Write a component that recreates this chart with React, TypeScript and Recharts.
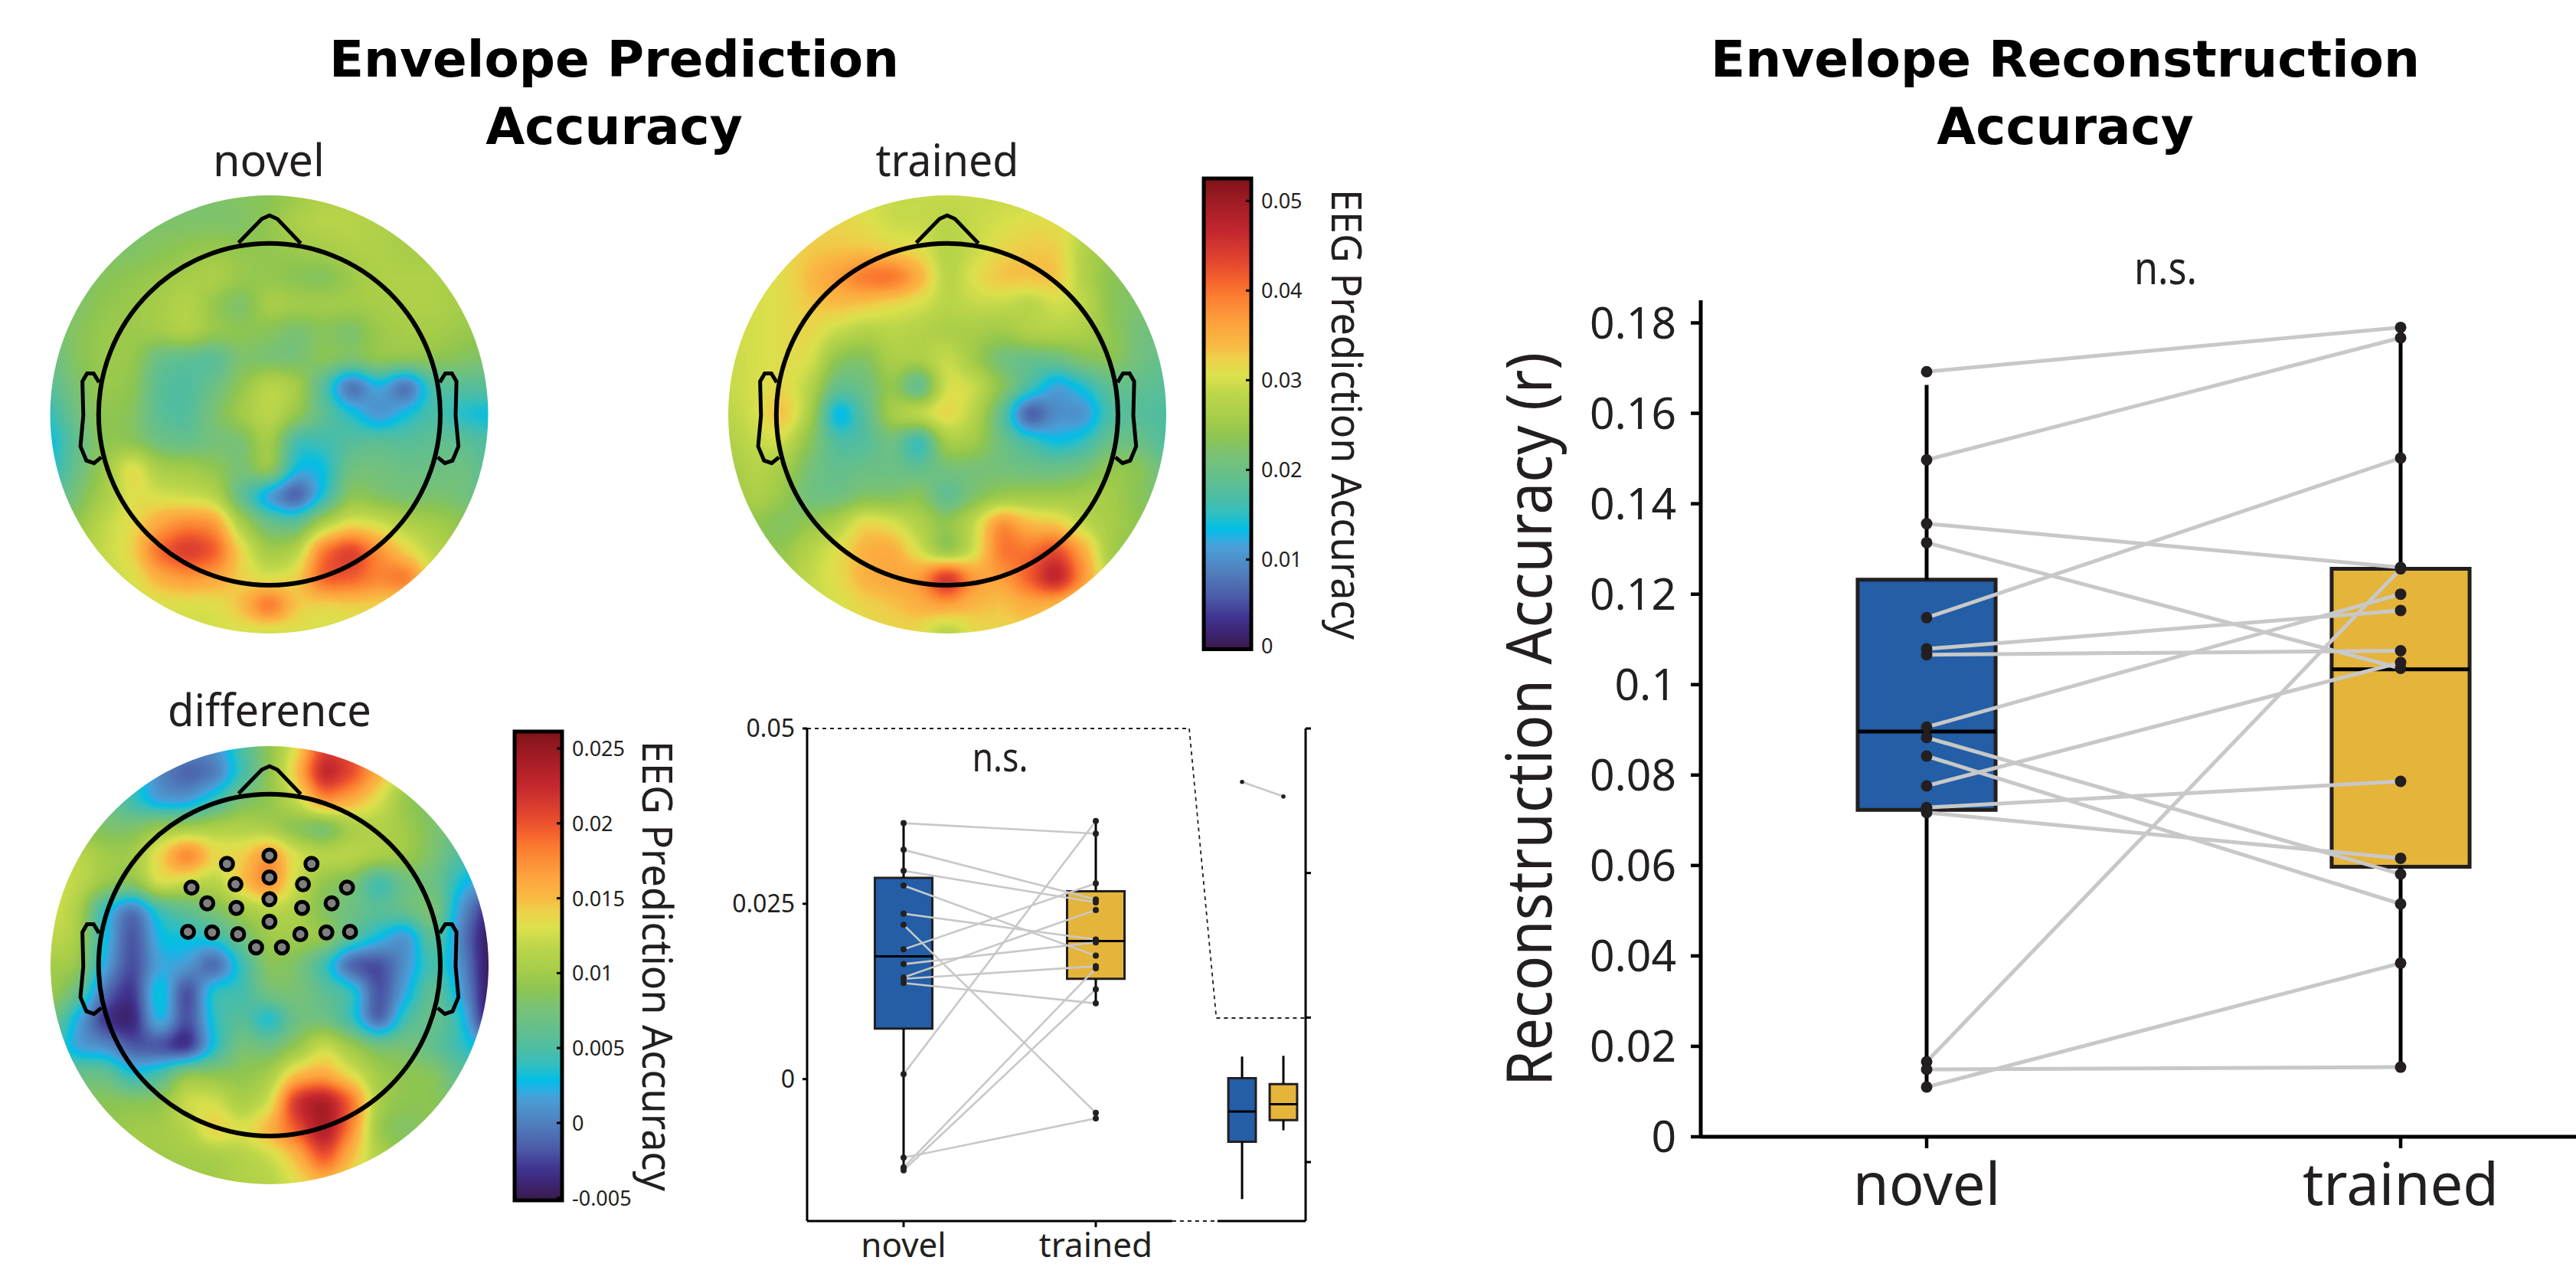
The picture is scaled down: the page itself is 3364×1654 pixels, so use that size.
import React from 'react'
import {
    ScatterChart,
    Scatter,
    BarChart,
    Bar,
    XAxis,
    YAxis,
    ReferenceArea,
    ReferenceLine,
    ReferenceDot,
} from 'recharts'

const INK = '#231f20'
const PAIR_GREY = '#c8c8c8'
const NOVEL_BLUE = '#235ea6'
const TRAINED_GOLD = '#e5b43a'
const SANS = '"Noto Sans", sans-serif'

// colorbar stops, read bottom to top
const cmapStops = [0, 0.033, 0.066, 0.112, 0.165, 0.218, 0.244, 0.257, 0.27, 0.29, 0.317, 0.356, 0.409, 0.449, 0.488, 0.541, 0.581, 0.62, 0.647, 0.686, 0.752, 0.785, 0.818, 0.884, 0.95, 1]
const cmapColors = ['#3a1a48', '#3d2470', '#40338f', '#4c5ca9', '#5080bd', '#4a9fd8', '#1ab5e5', '#00bfe6', '#17bfd4', '#33bfc0', '#49bda8', '#5fbf92', '#78c277', '#8cc552', '#a5cc4a', '#bcd64a', '#dbe14c', '#efcf49', '#f9b843', '#fda63f', '#fb7c30', '#f5602d', '#e5492f', '#c5272e', '#a01b24', '#7f1318']

// scalp maps, in units of 0.001 r, rows run from nose to back
const novelMap = [
    [22, 22, 22, 22, 22, 22, 22, 23, 23, 25, 27, 27, 27, 26, 26, 26, 26],
    [22, 22, 22, 22, 22, 22, 22, 22, 24, 27, 28, 28, 27, 26, 26, 26, 26],
    [22, 22, 22, 22, 23, 24, 25, 24, 24, 25, 26, 27, 27, 26, 26, 26, 26],
    [22, 22, 23, 24, 25, 26, 27, 25, 24, 23, 22, 25, 27, 27, 27, 26, 26],
    [21, 22, 24, 25, 26, 28, 24, 21, 27, 26, 26, 26, 26, 27, 27, 26, 25],
    [21, 23, 25, 25, 26, 28, 25, 24, 23, 21, 23, 21, 25, 26, 26, 25, 24],
    [20, 23, 25, 25, 19, 18, 17, 22, 21, 21, 24, 23, 25, 25, 24, 23, 22],
    [18, 22, 25, 24, 18, 17, 20, 24, 29, 27, 17, 4, 13, 4, 17, 18, 18],
    [15, 21, 24, 23, 18, 17, 22, 26, 29, 25, 19, 15, 9, 14, 17, 14, 13],
    [13, 19, 24, 23, 20, 19, 21, 21, 27, 15, 16, 18, 19, 18, 19, 19, 17],
    [14, 20, 25, 33, 26, 26, 24, 21, 27, 13, 13, 21, 21, 20, 20, 21, 18],
    [16, 22, 26, 31, 30, 29, 28, 18, 9, 3, 14, 24, 22, 21, 22, 21, 19],
    [20, 24, 29, 31, 36, 39, 38, 26, 20, 19, 27, 31, 30, 27, 26, 24, 22],
    [24, 27, 29, 32, 42, 46, 43, 32, 25, 27, 41, 46, 38, 32, 28, 26, 24],
    [26, 28, 29, 30, 35, 37, 36, 32, 30, 32, 43, 42, 39, 42, 30, 27, 25],
    [27, 28, 28, 29, 30, 30, 30, 34, 43, 33, 31, 32, 32, 30, 28, 27, 26],
    [27, 28, 28, 29, 30, 30, 30, 30, 28, 30, 30, 30, 30, 29, 28, 27, 26],
]

const trainedMap = [
    [30, 30, 30, 30, 30, 30, 29, 29, 29, 29, 29, 29, 28, 27, 26, 25, 25],
    [30, 30, 31, 32, 32, 31, 29, 29, 28, 29, 30, 31, 31, 29, 26, 25, 25],
    [30, 30, 31, 33, 33, 33, 32, 31, 27, 29, 32, 33, 33, 27, 25, 24, 24],
    [30, 30, 31, 34, 37, 41, 42, 36, 27, 31, 34, 34, 34, 27, 23, 23, 23],
    [30, 30, 31, 33, 34, 33, 31, 30, 28, 29, 29, 27, 30, 29, 23, 22, 22],
    [30, 30, 31, 32, 29, 27, 28, 27, 26, 26, 25, 28, 28, 27, 24, 21, 20],
    [29, 30, 31, 31, 23, 22, 27, 27, 30, 25, 20, 19, 20, 23, 24, 21, 19],
    [29, 30, 32, 28, 19, 20, 25, 15, 31, 30, 24, 18, 10, 14, 19, 19, 18],
    [28, 30, 35, 27, 10, 18, 27, 31, 33, 28, 19, 2, 10, 9, 17, 18, 17],
    [27, 29, 30, 23, 17, 17, 21, 12, 27, 26, 20, 17, 13, 15, 20, 20, 17],
    [25, 28, 26, 21, 19, 20, 20, 19, 21, 21, 21, 20, 20, 21, 25, 24, 20],
    [24, 27, 25, 20, 20, 22, 22, 24, 17, 22, 24, 25, 25, 26, 26, 23, 21],
    [23, 24, 22, 24, 27, 33, 31, 27, 24, 29, 40, 34, 33, 28, 26, 24, 22],
    [23, 23, 24, 28, 31, 35, 36, 30, 21, 29, 41, 40, 44, 36, 25, 24, 22],
    [24, 25, 26, 29, 31, 35, 36, 37, 50, 37, 36, 42, 50, 38, 27, 24, 22],
    [26, 27, 28, 29, 30, 32, 33, 35, 36, 34, 33, 35, 33, 29, 26, 24, 23],
    [27, 28, 28, 29, 30, 31, 32, 31, 26, 31, 32, 32, 31, 29, 26, 25, 24],
]

const differenceMap = [
    [3, 3, 3, 3, 2, 1, 1, 5, 9, 13, 21, 20, 16, 12, 10, 9, 8],
    [5, 5, 5, 5, 0, -2, -1, 4, 9, 15, 24, 21, 16, 11, 9, 8, 8],
    [8, 8, 7, 4, 1, 1, 4, 8, 9, 12, 18, 16, 13, 9, 8, 7, 7],
    [10, 9, 8, 8, 10, 10, 11, 11, 10, 8, 6, 10, 11, 10, 8, 7, 6],
    [12, 12, 10, 10, 14, 20, 14, 14, 18, 13, 12, 12, 11, 10, 8, 5, 4],
    [13, 12, 10, 9, 14, 12, 11, 15, 19, 12, 9, 8, 3, 7, 7, 3, 1],
    [13, 11, 3, -2, 4, 6, 8, 10, 11, 11, 8, 7, 6, 7, 9, 1, -4],
    [12, 11, 3, -3, 3, 3, 4, 7, 10, 10, 10, 6, 3, 0, 7, 0, -6],
    [10, 10, 2, -3, 2, 2, -3, 4, 9, 8, 4, -3, -3, 1, 5, 1, -8],
    [10, 7, -1, -4, 5, -4, 5, 4, 8, 8, 6, 5, -3, 2, 7, 2, -7],
    [8, 2, -4, -5, 4, -3, 4, 6, 2, 7, 7, 4, -3, 5, 7, 4, -6],
    [6, 1, 1, -2, -3, -6, 3, 8, 7, 9, 13, 10, 8, 8, 6, 4, 2],
    [7, 7, 7, 3, 5, 10, 9, 9, 10, 15, 16, 13, 10, 9, 9, 6, 5],
    [8, 8, 9, 9, 9, 13, 13, 10, 12, 23, 25, 20, 10, 9, 9, 7, 6],
    [8, 9, 9, 10, 10, 11, 15, 13, 16, 20, 25, 18, 9, 8, 9, 8, 7],
    [9, 9, 10, 10, 10, 10, 10, 11, 12, 15, 21, 15, 11, 9, 9, 8, 7],
    [9, 9, 10, 10, 10, 10, 10, 11, 11, 13, 15, 13, 11, 9, 9, 8, 7],
]

// scalp outline, unit circle is the map edge
const HEAD_RADIUS = 0.78
const nosePoints = [[-0.141, 0.783], [-0.035, 0.892], [0, 0.908], [0.036, 0.892], [0.143, 0.78]]
const earPoints = [[0.778, 0.146], [0.803, 0.187], [0.833, 0.187], [0.854, 0.15], [0.85, -0.006], [0.863, -0.146], [0.836, -0.211], [0.801, -0.223], [0.768, -0.196]]
const electrodes = [
    [0, 0.5], [-0.194, 0.462], [0.192, 0.462], [0, 0.4], [-0.155, 0.369], [0.153, 0.369], [-0.356, 0.354], [0.354, 0.354],
    [0, 0.301], [-0.284, 0.282], [0.284, 0.282], [-0.151, 0.261], [0.149, 0.261], [0, 0.198], [-0.372, 0.152], [-0.262, 0.149],
    [-0.143, 0.141], [0.141, 0.141], [0.26, 0.149], [0.368, 0.152], [-0.061, 0.081], [0.057, 0.081],
]

// reconstruction accuracy per subject
const reconNovel = [0.1692, 0.1497, 0.1356, 0.1314, 0.1148, 0.1079, 0.1066, 0.0906, 0.0883, 0.0842, 0.0776, 0.0728, 0.0717, 0.0166, 0.0149, 0.011]
const reconTrained = [0.179, 0.1767, 0.1259, 0.1036, 0.1501, 0.1164, 0.1075, 0.12, 0.0581, 0.0515, 0.1049, 0.0786, 0.0616, 0.1256, 0.0154, 0.0384]
const reconNovelBox = [0.011, 0.0723, 0.0896, 0.1232, 0.1663]
const reconTrainedBox = [0.0154, 0.0597, 0.1034, 0.1256, 0.179]
const reconTicks = [0, 0.02, 0.04, 0.06, 0.08, 0.1, 0.12, 0.14, 0.16, 0.18]

// mean prediction accuracy at the electrode cluster per subject
const predNovel = [0.0365, 0.0327, 0.0297, 0.0276, 0.0236, 0.022, 0.0185, 0.0164, 0.0145, 0.0143, 0.0137, 0.0007, -0.0112, -0.0126, -0.013]
const predTrained = [0.035, 0.0256, 0.0252, 0.0176, 0.0199, -0.0048, 0.0279, 0.0195, 0.0241, 0.0161, 0.0108, 0.0368, -0.0056, 0.0158, 0.0128]
const predNovelBox = [-0.013, 0.0072, 0.0175, 0.0287, 0.0365]
const predTrainedBox = [0.0108, 0.0143, 0.0197, 0.0268, 0.0368]
const predTicks = [0, 0.025, 0.05]

// zoomed inset of the full range
const insetNovelBox = [-0.01256, -0.0086, -0.0065, -0.0042, -0.0027]
const insetTrainedBox = [-0.0078, -0.0071, -0.006, -0.0046, -0.00265]
const insetPair = [0.0163, 0.0153]
const insetTicks = [-0.01, 0, 0.01, 0.02]

const conditionNames = ['novel', 'trained']
const trainedBarTicks = [0, 0.01, 0.02, 0.03, 0.04, 0.05]
const differenceBarTicks = [-0.005, 0, 0.005, 0.01, 0.015, 0.02, 0.025]

const MAP_RADIUS = 286
const CELL = MAP_RADIUS / 8
const MAP_SIZE = 17 * CELL
const MAP_LIMIT = 1.0625

const colorAt = (t: number) => {
    let i = 0
    while (i < cmapStops.length - 2 && t > cmapStops[i + 1]) i++
    const f = Math.min(1, Math.max(0, (t - cmapStops[i]) / (cmapStops[i + 1] - cmapStops[i])))
    const a = cmapColors[i], b = cmapColors[i + 1]
    return [1, 3, 5].map(p => {
        const ca = parseInt(a.slice(p, p + 2), 16), cb = parseInt(b.slice(p, p + 2), 16)
        return (ca + (cb - ca) * f) / 255
    })
}
const table = Array.from({ length: 128 }, (_, i) => colorAt(i / 127))
const tableFor = (c: number) => table.map(rgb => rgb[c].toFixed(3)).join(' ')

const NoMark = () => null

const HeatCell = (props: any) => {
    const { cx, cy, payload } = props
    const g = Math.round(255 * Math.max(0, Math.min(1, payload.t)))
    return <rect x={cx - CELL / 2 - 0.5} y={cy - CELL / 2 - 0.5} width={CELL + 1} height={CELL + 1} fill={`rgb(${g},${g},${g})`} />
}

const ElectrodeMark = (props: any) => (
    <circle cx={props.cx} cy={props.cy} r={8} fill="#808080" stroke="#000" strokeWidth={5} />
)

const toPoints = (pts: number[][]) => pts.map(([x, y]) => ({ x, y }))

function ScalpMap({ left, top, rows, min, max, sites }: any) {
    const cells = rows.flatMap((row: number[], r: number) =>
        row.map((v, c) => ({ x: -1 + c / 8, y: 1 - r / 8, t: (v / 1000 - min) / (max - min) }))
    )
    const axes = [
        <XAxis key="x" type="number" dataKey="x" domain={[-MAP_LIMIT, MAP_LIMIT]} hide />,
        <YAxis key="y" type="number" dataKey="y" domain={[-MAP_LIMIT, MAP_LIMIT]} hide />,
    ]
    const margin = { top: 0, right: 0, bottom: 0, left: 0 }
    return (
        <>
            <div style={{
                position: 'absolute', left, top, width: MAP_SIZE, height: MAP_SIZE,
                filter: 'url(#scalp-colors)',
                clipPath: `circle(${MAP_RADIUS}px at 50% 50%)`,
            }}>
                <ScatterChart width={MAP_SIZE} height={MAP_SIZE} margin={margin}>
                    {axes}
                    <Scatter data={cells} shape={HeatCell} isAnimationActive={false} />
                </ScatterChart>
            </div>
            <div style={{ position: 'absolute', left, top }}>
                <ScatterChart width={MAP_SIZE} height={MAP_SIZE} margin={margin} style={{ overflow: 'visible' }}>
                    {axes}
                    <ReferenceDot x={0} y={0} r={HEAD_RADIUS * MAP_RADIUS} fill="none" stroke="#000" strokeWidth={6} />
                    <Scatter data={toPoints(nosePoints)} shape={NoMark} line={{ stroke: '#000', strokeWidth: 5 }} isAnimationActive={false} />
                    <Scatter data={toPoints(earPoints)} shape={NoMark} line={{ stroke: '#000', strokeWidth: 5 }} isAnimationActive={false} />
                    <Scatter data={toPoints(earPoints.map(([x, y]) => [-x, y]))} shape={NoMark} line={{ stroke: '#000', strokeWidth: 5 }} isAnimationActive={false} />
                    {sites && <Scatter data={toPoints(sites)} shape={ElectrodeMark} isAnimationActive={false} />}
                </ScatterChart>
            </div>
        </>
    )
}

const ColorBarTick = (props: any) => {
    const { x, y, payload, zeroLift } = props
    const lift = payload.value === 0 ? zeroLift : 0
    return (
        <g>
            <line x1={x - 7} x2={x} y1={y} y2={y} stroke="#000" strokeWidth={3} />
            <text x={x + 13} y={y + 10 - lift} fill={INK} fontSize={27} fontFamily={SANS}>{String(payload.value)}</text>
        </g>
    )
}

function ColorBar({ id, left, top, height, domain, ticks, zeroLift = 0 }: any) {
    return (
        <div style={{ position: 'absolute', left, top }}>
            <BarChart
                width={240}
                height={height + 34}
                data={[{ name: 'scale', range: domain }]}
                margin={{ top: 4, right: 0, bottom: 30, left: 4 }}
                barCategoryGap={0}
            >
                <defs>
                    <linearGradient id={id} x1="0" y1="1" x2="0" y2="0">
                        {cmapStops.map((s, i) => <stop key={s} offset={s} stopColor={cmapColors[i]} />)}
                    </linearGradient>
                </defs>
                <XAxis dataKey="name" hide />
                <YAxis
                    orientation="right"
                    type="number"
                    width={240 - 4 - 62}
                    domain={domain}
                    ticks={ticks}
                    interval={0}
                    axisLine={false}
                    tickLine={false}
                    tickSize={0}
                    tickMargin={0}
                    tick={(p: any) => <ColorBarTick {...p} zeroLift={zeroLift} />}
                />
                <Bar dataKey="range" fill={`url(#${id})`} stroke="#000" strokeWidth={5} isAnimationActive={false} />
            </BarChart>
        </div>
    )
}

// box, median and whiskers for one condition, stats are [low, q1, median, q3, high]
const boxMarks = (key: string, x: number, stats: number[], width: number, fill: string, line: number, yAxisId: string | number = 0) => {
    const [low, q1, med, q3, high] = stats
    const seg = (name: string, x1: number, y1: number, x2: number, y2: number, color: string) => (
        <ReferenceLine
            key={key + name}
            yAxisId={yAxisId}
            segment={[{ x: x1, y: y1 }, { x: x2, y: y2 }]}
            stroke={color}
            strokeWidth={line}
        />
    )
    return [
        seg('hi', x, q3, x, high, '#000'),
        seg('lo', x, low, x, q1, '#000'),
        <ReferenceArea
            key={key + 'box'}
            yAxisId={yAxisId}
            x1={x - width / 2}
            x2={x + width / 2}
            y1={q1}
            y2={q3}
            fill={fill}
            fillOpacity={1}
            stroke={INK}
            strokeWidth={line}
        />,
        seg('med', x - width / 2, med, x + width / 2, med, '#000'),
    ]
}

const pairMarks = (key: string, xa: number, xb: number, a: number[], b: number[], width: number, r: number, yAxisId: string | number = 0) => {
    const Dot = (p: any) => <circle cx={p.cx} cy={p.cy} r={r} fill={INK} />
    return [
        ...a.map((v, i) => (
            <Scatter
                key={`${key}-${i}`}
                yAxisId={yAxisId}
                data={[{ x: xa, y: v }, { x: xb, y: b[i] }]}
                shape={NoMark}
                line={{ stroke: PAIR_GREY, strokeWidth: width }}
                isAnimationActive={false}
            />
        )),
        <Scatter key={`${key}-a`} yAxisId={yAxisId} data={a.map(y => ({ x: xa, y }))} shape={Dot} isAnimationActive={false} />,
        <Scatter key={`${key}-b`} yAxisId={yAxisId} data={b.map(y => ({ x: xb, y }))} shape={Dot} isAnimationActive={false} />,
    ]
}

const conditionLabel = (v: number) => conditionNames[v - 1] ?? ''

function ReconstructionChart() {
    return (
        <div style={{ position: 'absolute', left: 2021, top: 372 }}>
            <ScatterChart width={1343} height={1282} margin={{ top: 20, right: 0, bottom: 0, left: 0 }}>
                <XAxis
                    type="number"
                    dataKey="x"
                    domain={[0.5234, 2.37]}
                    ticks={[1, 2]}
                    interval={0}
                    height={170}
                    tickFormatter={conditionLabel}
                    tickSize={15}
                    tickMargin={20}
                    axisLine={{ stroke: '#000', strokeWidth: 5 }}
                    tickLine={{ stroke: '#000', strokeWidth: 4.5 }}
                    tick={{ fill: INK, fontSize: 76, fontFamily: SANS }}
                />
                <YAxis
                    type="number"
                    dataKey="y"
                    width={200}
                    domain={[0, 0.185]}
                    ticks={reconTicks}
                    interval={0}
                    tickSize={13}
                    tickMargin={19}
                    tickFormatter={(v: number) => String(v)}
                    axisLine={{ stroke: '#000', strokeWidth: 5 }}
                    tickLine={{ stroke: '#000', strokeWidth: 4.5 }}
                    tick={{ fill: INK, fontSize: 57, fontFamily: SANS }}
                />
                {boxMarks('rn', 1, reconNovelBox, 0.291, NOVEL_BLUE, 5)}
                {boxMarks('rt', 2, reconTrainedBox, 0.291, TRAINED_GOLD, 5)}
                {pairMarks('recon', 1, 2, reconNovel, reconTrained, 5, 7.5)}
            </ScatterChart>
        </div>
    )
}

function PredictionChart() {
    const dash = { stroke: INK, strokeWidth: 1.8, strokeDasharray: '5 5' }
    const bottom = -0.02024
    return (
        <div style={{ position: 'absolute', left: 924, top: 911 }}>
            <ScatterChart width={820} height={743} margin={{ top: 40, right: 0, bottom: 0, left: 0 }}>
                <XAxis
                    type="number"
                    dataKey="x"
                    domain={[0.498, 3.0916]}
                    ticks={[1, 2]}
                    interval={0}
                    height={60}
                    tickFormatter={conditionLabel}
                    tickSize={8}
                    tickMargin={8}
                    axisLine={false}
                    tickLine={{ stroke: '#000', strokeWidth: 3 }}
                    tick={{ fill: INK, fontSize: 44, fontFamily: SANS }}
                />
                <YAxis
                    type="number"
                    dataKey="y"
                    width={130}
                    domain={[bottom, 0.05]}
                    ticks={predTicks}
                    interval={0}
                    tickSize={6}
                    tickMargin={10}
                    tickFormatter={(v: number) => String(v)}
                    axisLine={{ stroke: '#000', strokeWidth: 3 }}
                    tickLine={{ stroke: '#000', strokeWidth: 3 }}
                    tick={{ fill: INK, fontSize: 32, fontFamily: SANS }}
                />
                <YAxis
                    yAxisId="inset"
                    orientation="right"
                    type="number"
                    dataKey="y"
                    width={39}
                    domain={[-0.01408, 0.02]}
                    ticks={insetTicks}
                    interval={0}
                    tickSize={7}
                    tickFormatter={() => ''}
                    axisLine={{ stroke: '#000', strokeWidth: 3 }}
                    tickLine={{ stroke: '#000', strokeWidth: 3 }}
                />
                {/* bottom axis, broken by the dashed span under the inset */}
                <ReferenceLine segment={[{ x: 0.498, y: bottom }, { x: 2.398, y: bottom }]} stroke="#000" strokeWidth={3} />
                <ReferenceLine segment={[{ x: 2.398, y: bottom }, { x: 2.633, y: bottom }]} {...dash} />
                <ReferenceLine segment={[{ x: 2.633, y: bottom }, { x: 3.0916, y: bottom }]} stroke="#000" strokeWidth={3} />
                {/* guide from the main panel into the inset */}
                <ReferenceLine segment={[{ x: 0.498, y: 0.05 }, { x: 2.486, y: 0.05 }]} {...dash} />
                <ReferenceLine segment={[{ x: 2.486, y: 0.05 }, { x: 2.627, y: 0.00871 }]} {...dash} />
                <ReferenceLine segment={[{ x: 2.627, y: 0.00871 }, { x: 3.0916, y: 0.00871 }]} {...dash} />
                {boxMarks('pn', 1, predNovelBox, 0.299, NOVEL_BLUE, 3)}
                {boxMarks('pt', 2, predTrainedBox, 0.299, TRAINED_GOLD, 3)}
                {boxMarks('in', 2.761, insetNovelBox, 0.143, NOVEL_BLUE, 3, 'inset')}
                {boxMarks('it', 2.976, insetTrainedBox, 0.143, TRAINED_GOLD, 3, 'inset')}
                {pairMarks('pred', 1, 2, predNovel, predTrained, 2.6, 4)}
                {pairMarks('inset', 2.761, 2.976, [insetPair[0]], [insetPair[1]], 2.6, 2.8, 'inset')}
            </ScatterChart>
        </div>
    )
}

const Title = ({ x, y, children }: any) => (
    <text x={x} y={y} textAnchor="middle" fontFamily='"DejaVu Sans", sans-serif' fontWeight={700} fontSize={66} fill="#000">{children}</text>
)

const Caption = ({ x, y, size, length, rotate, children }: any) => (
    <text
        x={x}
        y={y}
        textAnchor="middle"
        fontFamily={SANS}
        fontSize={size}
        fill={INK}
        textLength={length}
        lengthAdjust="spacingAndGlyphs"
        transform={rotate ? `rotate(${rotate} ${x} ${y})` : undefined}
    >
        {children}
    </text>
)

export default function App() {
    return (
        <div style={{ position: 'absolute', left: 0, top: 0, width: 3364, height: 1654, background: '#fff', overflow: 'hidden' }}>
            <svg width={0} height={0} style={{ position: 'absolute' }}>
                <filter id="scalp-colors" colorInterpolationFilters="sRGB" x="-5%" y="-5%" width="110%" height="110%">
                    <feGaussianBlur stdDeviation={14} />
                    <feComponentTransfer>
                        <feFuncR type="table" tableValues={tableFor(0)} />
                        <feFuncG type="table" tableValues={tableFor(1)} />
                        <feFuncB type="table" tableValues={tableFor(2)} />
                        <feFuncA type="discrete" tableValues="1" />
                    </feComponentTransfer>
                </filter>
            </svg>

            <ScalpMap left={351.5 - MAP_SIZE / 2} top={541 - MAP_SIZE / 2} rows={novelMap} min={0} max={0.0525} />
            <ScalpMap left={1237 - MAP_SIZE / 2} top={541 - MAP_SIZE / 2} rows={trainedMap} min={0} max={0.0525} />
            <ScalpMap left={352 - MAP_SIZE / 2} top={1260 - MAP_SIZE / 2} rows={differenceMap} min={-0.00517} max={0.02613} sites={electrodes} />

            <ColorBar id="bar-trained" left={1567.5} top={228.5} height={614.5} domain={[0, 0.0525]} ticks={trainedBarTicks} zeroLift={5} />
            <ColorBar id="bar-difference" left={667.5} top={951} height={612} domain={[-0.00517, 0.02613]} ticks={differenceBarTicks} />

            <PredictionChart />
            <ReconstructionChart />

            <svg width={3364} height={1654} style={{ position: 'absolute', left: 0, top: 0, pointerEvents: 'none' }}>
                <Title x={802} y={100}>Envelope Prediction</Title>
                <Title x={802} y={188}>Accuracy</Title>
                <Title x={2697} y={100}>Envelope Reconstruction</Title>
                <Title x={2697} y={188}>Accuracy</Title>
                <Caption x={351} y={230} size={58} length={146}>novel</Caption>
                <Caption x={1237} y={230} size={58} length={187}>trained</Caption>
                <Caption x={352} y={948} size={58} length={266}>difference</Caption>
                <Caption x={1739} y={541} size={55} length={588} rotate={90}>EEG Prediction Accuracy</Caption>
                <Caption x={839} y={1261} size={55} length={588} rotate={90}>EEG Prediction Accuracy</Caption>
                <Caption x={2026} y={939} size={83} length={958} rotate={-90}>Reconstruction Accuracy (r)</Caption>
                <Caption x={1306} y={1007} size={52} length={73}>n.s.</Caption>
                <Caption x={2828} y={371} size={60} length={82}>n.s.</Caption>
            </svg>
        </div>
    )
}
